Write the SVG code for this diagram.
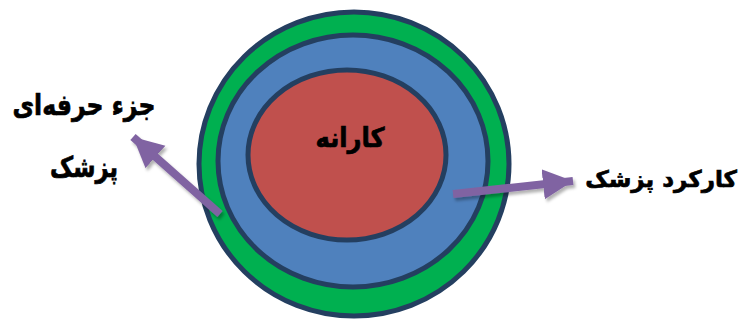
<svg xmlns="http://www.w3.org/2000/svg" width="745" height="321" viewBox="0 0 745 321">
<style>
.ring{stroke:#243F60;stroke-width:5}
.lbl{font-family:"DejaVu Sans",sans-serif;font-weight:bold;fill:#000;stroke:#000;stroke-width:0.7}
.arr{stroke:#8064A2;stroke-width:8;fill:none}
</style>
<defs>
<marker id="ah" markerUnits="userSpaceOnUse" markerWidth="31" markerHeight="31" refX="30" refY="15" orient="auto" viewBox="0 0 31 31">
<path d="M0,0 L30,15 L0,30 z" fill="#8064A2"/>
</marker>
<filter id="sh" x="-20%" y="-20%" width="140%" height="140%">
<feDropShadow dx="2" dy="3" stdDeviation="1.5" flood-color="#000" flood-opacity="0.3"/>
</filter>
</defs>
<rect width="745" height="321" fill="#fff"/>
<g id="outer"><ellipse class="ring" cx="354" cy="164" rx="155" ry="152" fill="#00B050"/></g>
<g id="middle"><ellipse class="ring" cx="353" cy="161" rx="135" ry="126" fill="#4F81BD"/></g>
<g id="inner"><ellipse class="ring" cx="347" cy="155" rx="99" ry="85" fill="#C0504D"/>
<text class="lbl" x="350" y="147" font-size="27" text-anchor="middle" textLength="69" lengthAdjust="spacingAndGlyphs">کارانه</text></g>
<g id="connectors" filter="url(#sh)">
<line class="arr" x1="220" y1="214" x2="133" y2="137" marker-end="url(#ah)"/>
<line class="arr" x1="453" y1="194" x2="573" y2="181" marker-end="url(#ah)"/>
</g>
<g id="left-label">
<text class="lbl" x="84" y="115" font-size="29" text-anchor="middle" textLength="143" lengthAdjust="spacingAndGlyphs">جزء حرفه‌ای</text>
<text class="lbl" x="84" y="177" font-size="29" text-anchor="middle" textLength="68" lengthAdjust="spacingAndGlyphs">پزشک</text>
</g>
<g id="right-label">
<text class="lbl" x="737" y="187" font-size="23" text-anchor="end">کارکرد پزشک</text>
</g>
</svg>
